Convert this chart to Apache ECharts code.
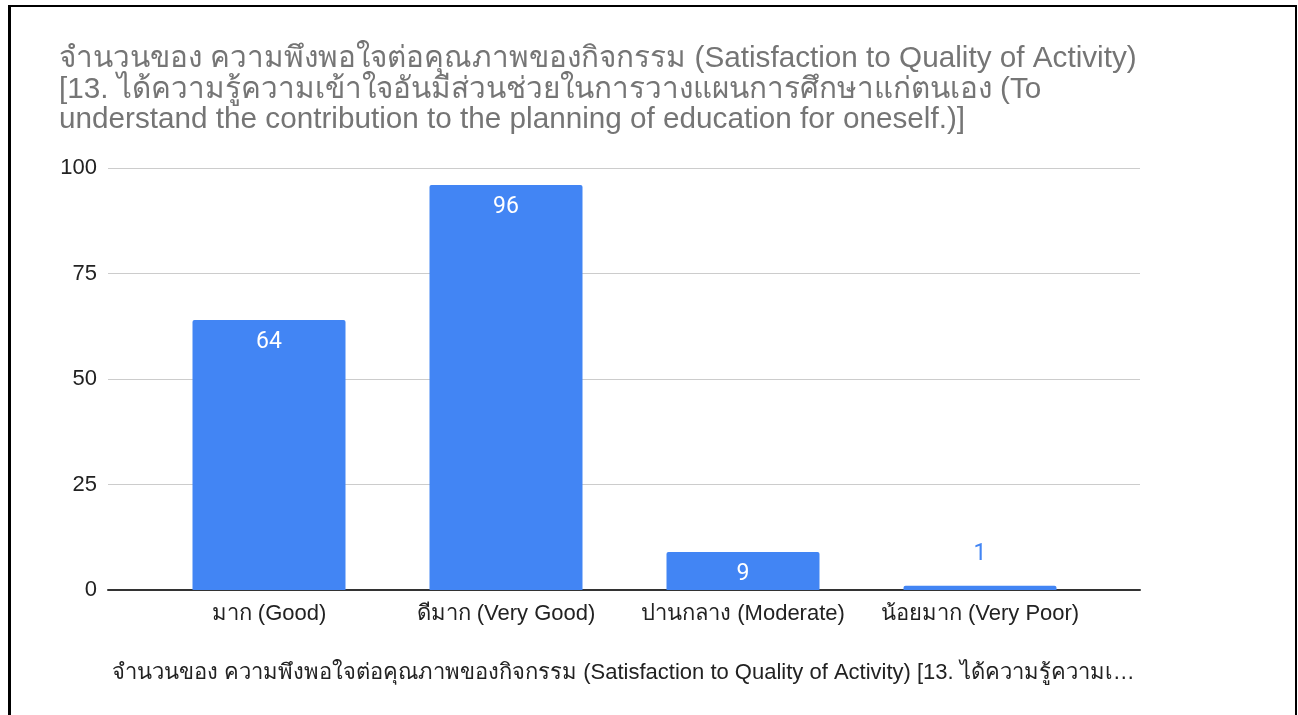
<!DOCTYPE html>
<html>
<head>
<meta charset="utf-8">
<script src="https://cdn.jsdelivr.net/npm/echarts@6/dist/echarts.min.js"></script>
<style>
html, body { margin: 0; padding: 0; background: #fff; }
.frame {
  position: absolute;
  left: 8px;
  top: 5px;
  width: 1284px;
  height: 720px;
  border-left: 3px solid #000;
  border-top: 2px solid #000;
  border-right: 2px solid #000;
}
#chart {
  position: absolute;
  left: 0;
  top: 0;
  width: 1298px;
  height: 715px;
}
</style>
</head>
<body>
<div class="frame"></div>
<div id="chart"></div>
<script>
const chartTitle = 'จำนวนของ ความพึงพอใจต่อคุณภาพของกิจกรรม (Satisfaction to Quality of Activity)\n' +
  '[13. ได้ความรู้ความเข้าใจอันมีส่วนช่วยในการวางแผนการศึกษาแก่ตนเอง (To\n' +
  'understand the contribution to the planning of education for oneself.)]';
const axisTitle = 'จำนวนของ ความพึงพอใจต่อคุณภาพของกิจกรรม (Satisfaction to Quality of Activity) [13. ได้ความรู้ความเ…';
const categories = ['มาก (Good)', 'ดีมาก (Very Good)', 'ปานกลาง (Moderate)', 'น้อยมาก (Very Poor)'];
const counts = [64, 96, 9, 1];
const yTicks = [0, 25, 50, 75, 100];

const font = 'Arial, "Liberation Sans", "Noto Sans", sans-serif';
const blue = '#4285f4';

// bars that are too short get their label above in blue
const barData = counts.map(v => {
  if (v < 5) {
    return { value: v, label: { position: 'top', color: blue, distance: 20 } };
  }
  return v;
});

let myChart = echarts.init(document.getElementById('chart'), null, { renderer: 'canvas' });

let option = {
  animation: false,
  title: [
    {
      text: chartTitle,
      left: 59,
      top: 44,
      padding: 0,
      textStyle: {
        fontFamily: font,
        fontSize: 29.7,
        fontWeight: 'normal',
        color: '#757575',
        lineHeight: 30.5
      }
    },
    {
      text: axisTitle,
      left: 112,
      top: 661,
      padding: 0,
      textStyle: {
        fontFamily: font,
        fontSize: 22,
        fontWeight: 'normal',
        color: '#222',
        lineHeight: 24
      }
    }
  ],
  grid: [
    // gridlines and axis line across the full plot width
    { left: 108, right: 158, top: 168, bottom: 125, containLabel: false },
    // bars sit in a narrower band
    { left: 150.5, right: 199.5, top: 168, bottom: 125, containLabel: false }
  ],
  xAxis: [
    {
      gridIndex: 0,
      type: 'category',
      data: categories,
      axisLine: { show: true, lineStyle: { color: '#333', width: 2 } },
      axisTick: { show: false },
      axisLabel: { show: false }
    },
    {
      gridIndex: 1,
      type: 'category',
      data: categories,
      axisLine: { show: false },
      axisTick: { show: false },
      axisLabel: {
        fontFamily: font,
        fontSize: 22,
        color: '#222',
        margin: 13,
        interval: 0
      }
    }
  ],
  yAxis: [
    {
      gridIndex: 0,
      type: 'value',
      min: yTicks[0],
      max: yTicks[yTicks.length - 1],
      interval: 25,
      axisLine: { show: false },
      axisTick: { show: false },
      axisLabel: {
        fontFamily: font,
        fontSize: 22,
        color: '#222',
        margin: 11
      },
      splitLine: { lineStyle: { color: '#cccccc', width: 1 } }
    },
    {
      gridIndex: 1,
      type: 'value',
      min: yTicks[0],
      max: yTicks[yTicks.length - 1],
      interval: 25,
      axisLine: { show: false },
      axisTick: { show: false },
      axisLabel: { show: false },
      splitLine: { show: false }
    }
  ],
  series: [
    {
      type: 'bar',
      xAxisIndex: 1,
      yAxisIndex: 1,
      data: barData,
      barWidth: 153,
      itemStyle: { color: blue, borderRadius: [2, 2, 0, 0] },
      label: {
        show: true,
        position: 'insideTop',
        distance: 11,
        fontFamily: 'Roboto, Arial, sans-serif',
        fontSize: 23,
        color: '#fff'
      }
    }
  ]
};

myChart.setOption(option);
</script>
</body>
</html>
